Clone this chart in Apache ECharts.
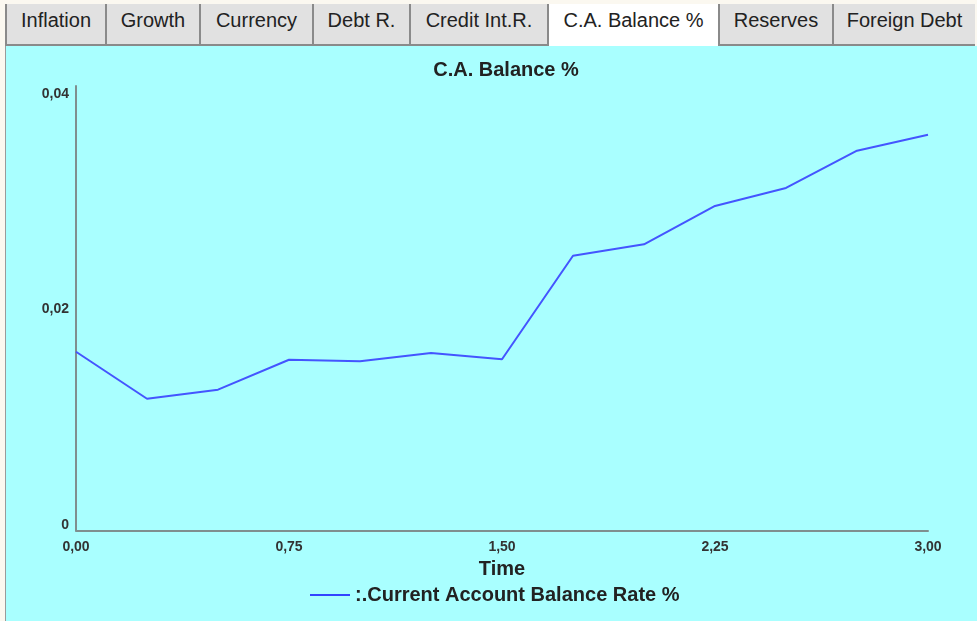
<!DOCTYPE html>
<html>
<head>
<meta charset="utf-8">
<title>C.A. Balance %</title>
<script src="https://cdn.jsdelivr.net/npm/echarts@6/dist/echarts.min.js"></script>
<style>
  html, body { margin: 0; padding: 0; width: 977px; height: 621px; overflow: hidden; background: #fbf8f0; font-family: "Liberation Sans", Arial, sans-serif; }
  #tabs { position: absolute; left: 5px; top: 4px; height: 40px; width: 970px; display: flex; border-bottom: 2px solid #8a8a8a; }
  .tab { box-sizing: border-box; height: 40px; line-height: 33px; font-size: 20px; color: #222; text-align: center; background: #e1e1e1; border-left: 2px solid #8a8a8a; }
  .tab.active { background: #ffffff; height: 42px; margin-bottom: -2px; }
  #panel { position: absolute; left: 5px; top: 46px; width: 972px; height: 575px; background: #a9ffff; border-left: 1px solid #9a9a9a; }
  #chart { position: absolute; left: 0; top: 0; width: 977px; height: 621px; }
</style>
</head>
<body>
<div id="tabs"></div>
<div id="panel"></div>
<div id="chart"></div>
<script>
// Tab captions and widths
const tabNames = ['Inflation', 'Growth', 'Currency', 'Debt R.', 'Credit Int.R.', 'C.A. Balance %', 'Reserves', 'Foreign Debt'];
const tabWidths = [100, 94, 113, 97, 138, 171, 114, 143];
const activeTab = 5;

// Simulation output: time steps and current account balance rate
const times = [0, 0.25, 0.5, 0.75, 1.0, 1.25, 1.5, 1.75, 2.0, 2.25, 2.5, 2.75, 3.0];
const balanceRate = [0.01659, 0.01223, 0.01307, 0.01585, 0.01570, 0.01647, 0.01589, 0.02550, 0.02656, 0.03012, 0.03179, 0.03525, 0.03673];

// Axis ticks
const xTicks = [0, 0.75, 1.5, 2.25, 3.0];
const yTicks = [0, 0.02, 0.04];

const tabsEl = document.getElementById('tabs');
tabNames.forEach(function (name, i) {
  const d = document.createElement('div');
  d.className = 'tab' + (i === activeTab ? ' active' : '');
  d.style.width = tabWidths[i] + 'px';
  d.textContent = name;
  tabsEl.appendChild(d);
});

function fmtX(v) { return v.toFixed(2).replace('.', ','); }
function fmtY(v) { return v === 0 ? '0' : v.toFixed(2).replace('.', ','); }

const font = '"Liberation Sans", Arial, sans-serif';
const chart = echarts.init(document.getElementById('chart'));
chart.setOption({
  animation: false,
  backgroundColor: 'transparent',
  textStyle: { fontFamily: font },
  title: {
    text: 'C.A. Balance %',
    left: 501,
    textAlign: 'center',
    top: 55,
    textStyle: { fontSize: 20, fontWeight: 'bold', color: '#222', fontFamily: font }
  },
  grid: { left: 76, right: 49, top: 86, bottom: 90.5, containLabel: false },
  legend: {
    left: 305,
    top: 580,
    icon: 'rect',
    itemWidth: 40,
    itemHeight: 2,
    itemGap: 8,
    textStyle: { fontSize: 20, fontWeight: 'bold', color: '#222', fontFamily: font },
    data: [':.Current Account Balance Rate %']
  },
  xAxis: {
    type: 'value',
    min: 0,
    max: 3,
    interval: 0.75,
    name: 'Time',
    nameLocation: 'middle',
    nameGap: 28.5,
    nameTextStyle: { fontSize: 20, fontWeight: 'bold', color: '#222', fontFamily: font },
    axisLine: { show: true, lineStyle: { color: '#7f8f8f', width: 2 } },
    axisTick: { show: false },
    splitLine: { show: false },
    axisLabel: {
      margin: 10,
      fontSize: 14,
      fontWeight: 'bold',
      color: '#333',
      formatter: fmtX,
      customValues: xTicks
    }
  },
  yAxis: {
    type: 'value',
    min: 0,
    max: 0.04125,
    axisLine: { show: true, lineStyle: { color: '#7f8f8f', width: 2 } },
    axisTick: { show: false },
    splitLine: { show: false },
    axisLabel: {
      margin: 7,
      fontSize: 14,
      lineHeight: 11,
      fontWeight: 'bold',
      color: '#333',
      verticalAlign: 'bottom',
      formatter: fmtY,
      customValues: yTicks
    }
  },
  series: [{
    name: ':.Current Account Balance Rate %',
    type: 'line',
    symbol: 'none',
    color: '#3344ff',
    lineStyle: { width: 2, color: '#4455ff' },
    data: times.map(function (t, i) { return [t, balanceRate[i]]; })
  }]
});
</script>
</body>
</html>
